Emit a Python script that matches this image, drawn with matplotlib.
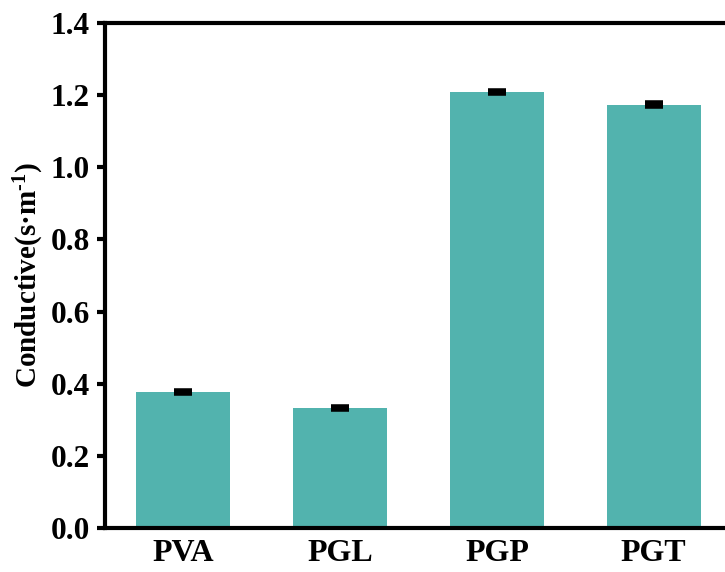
import matplotlib
matplotlib.use('Agg')
import matplotlib.pyplot as plt
import numpy as np

# conductivity of each hydrogel sample
samples = ['PVA', 'PGL', 'PGP', 'PGT']
conductive = [0.378, 0.332, 1.208, 1.174]
errors = [0.003, 0.003, 0.003, 0.003]

plt.rcParams['font.family'] = ['Liberation Serif', 'DejaVu Serif']
plt.rcParams['font.weight'] = 'bold'
plt.rcParams['mathtext.fontset'] = 'custom'
plt.rcParams['mathtext.rm'] = 'Liberation Serif:bold'
plt.rcParams['mathtext.bf'] = 'Liberation Serif:bold'
plt.rcParams['mathtext.it'] = 'Liberation Serif:bold'

fig = plt.figure(figsize=(7.25, 5.72), dpi=100)
# axes run slightly past the right edge of the figure
ax = fig.add_axes([105 / 725, 1 - 528 / 572, 627 / 725, 505 / 572])

x = np.arange(len(samples))
ax.bar(x, conductive, width=0.6, color='#52b3ae',
       yerr=errors, error_kw=dict(ecolor='black', elinewidth=2.5, capsize=6.5, capthick=4))

ax.set_xlim(-0.5, 3.5)
ax.set_ylim(0, 1.4)
ax.set_yticks(np.arange(0, 1.41, 0.2))
ax.set_yticklabels(['%.1f' % v for v in np.arange(0, 1.41, 0.2)])
ax.set_xticks(x)
ax.set_xticklabels(samples)
ax.set_ylabel('Conductive(s\u00b7m$^{\\mathbf{\u2010 1}}$)', fontsize=21, fontweight='bold', labelpad=3)

for sp in ax.spines.values():
    sp.set_linewidth(3)
ax.tick_params(axis='y', direction='out', length=6, width=3, labelsize=22.5, pad=5)
ax.tick_params(axis='x', length=0, labelsize=23, pad=8)
for lab in ax.get_xticklabels() + ax.get_yticklabels():
    lab.set_fontweight('bold')

fig.savefig('out.png', dpi=100)
